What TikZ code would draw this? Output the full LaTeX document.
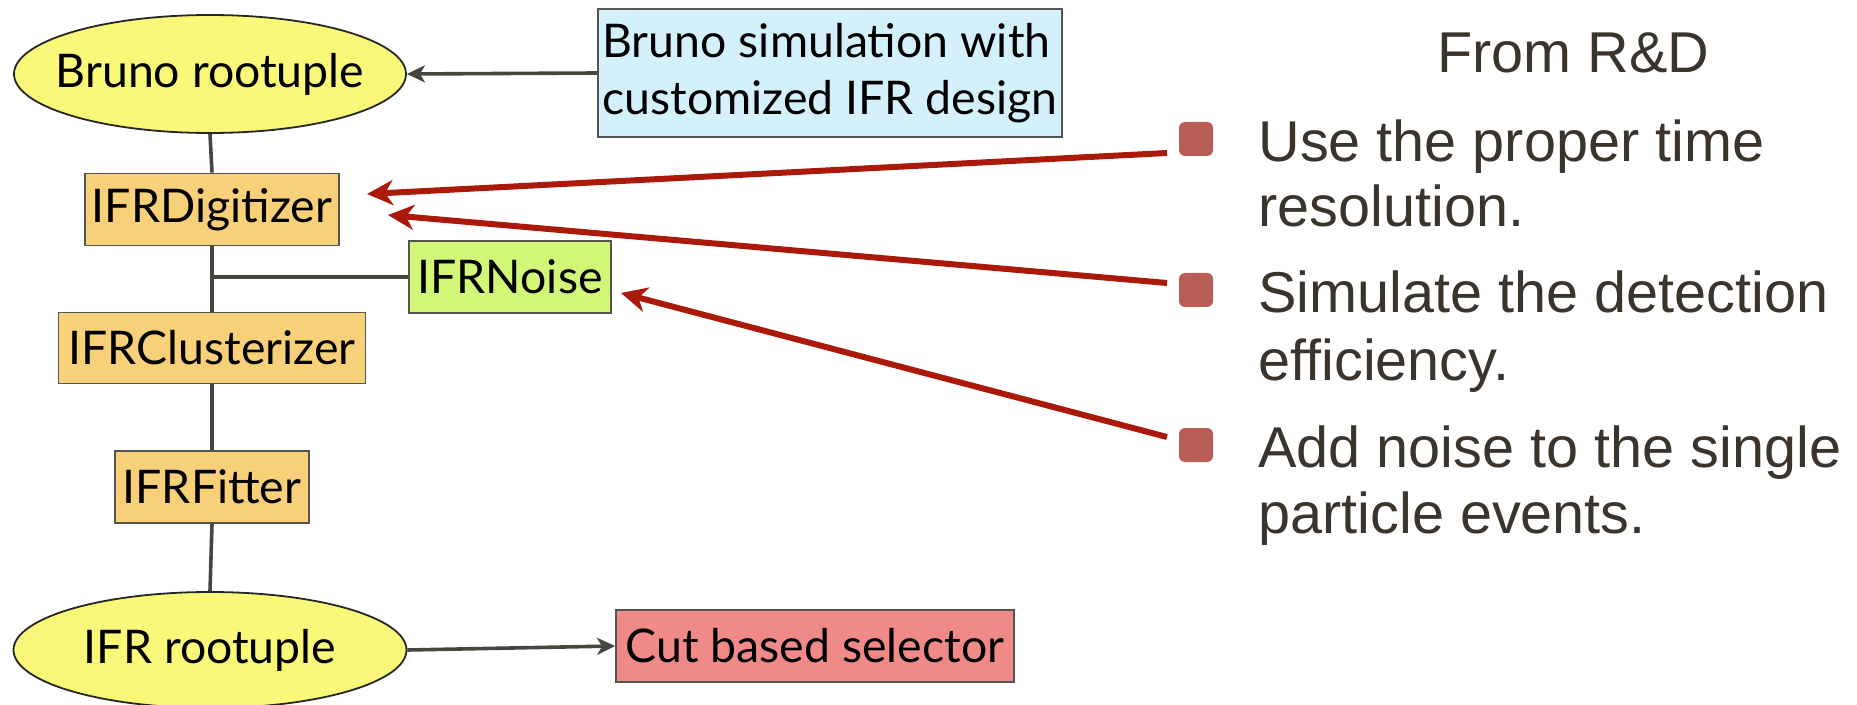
\documentclass[tikz,border=0pt]{standalone}
\usepackage{fontspec}
\setmainfont{Lato}
\newfontfamily\rfont{Liberation Sans}
\usetikzlibrary{shapes.geometric,arrows.meta}
\definecolor{elyellow}{RGB}{250,248,120}
\definecolor{simblue}{RGB}{212,240,251}
\definecolor{modorange}{RGB}{248,208,122}
\definecolor{noisegreen}{RGB}{210,246,120}
\definecolor{cutred}{RGB}{240,138,136}
\definecolor{bordergray}{RGB}{85,85,80}
\definecolor{linegray}{RGB}{70,70,62}
\definecolor{arrowred}{RGB}{170,25,10}
\definecolor{bulletred}{RGB}{184,92,86}
\definecolor{textdark}{RGB}{58,52,45}
\begin{document}
\begin{tikzpicture}[x=0.5pt,y=-0.5pt,
  lfont/.style={font=\fontsize{23.2pt}{28.5pt}\selectfont},
  box/.style={draw=bordergray, line width=0.9pt, inner sep=0pt, lfont},
  ell/.style={ellipse, draw=black!85, line width=0.9pt, fill=elyellow, inner sep=0pt, lfont},
  conn/.style={draw=linegray, line width=1.8pt},
  grayarrow/.style={conn, -{Stealth[length=9pt,width=8.5pt,inset=2.5pt]}},
  redarrow/.style={draw=arrowred, line width=3pt, -{Stealth[length=13pt,width=12.5pt,inset=4pt]}},
  bulletbox/.style={rectangle, rounded corners=3pt, fill=bulletred, minimum size=17pt, inner sep=0pt},
  rtext/.style={text=textdark, font=\rfont\fontsize{28.8pt}{32.5pt}\selectfont, inner sep=0pt, anchor=base west}
]
\useasboundingbox (0,0) rectangle (1857,705);

% left diagram
\node[ell, minimum width=196pt, minimum height=59pt] (bruno) at (210,74) {\makebox[0pt]{Bruno rootuple}};
\node[box, fill=simblue, minimum width=232pt, minimum height=64pt, align=left] (sim) at (830,73) {Bruno simulation with\\customized IFR design};
\node[box, fill=modorange, minimum width=127pt, minimum height=36pt] (digit) at (212,209.5) {IFRDigitizer};
\node[box, fill=noisegreen, minimum width=101pt, minimum height=36pt] (noise) at (510,277) {IFRNoise};
\node[box, fill=modorange, minimum width=153.5pt, minimum height=35.5pt] (clust) at (212,348) {IFRClusterizer};
\node[box, fill=modorange, minimum width=97pt, minimum height=36pt] (fitter) at (212,487) {IFRFitter};
\node[ell, minimum width=196.5pt, minimum height=58pt] (ifrroot) at (210,650) {\makebox[0pt]{IFR rootuple}};
\node[box, fill=cutred, minimum width=199pt, minimum height=36pt] (cut) at (815,646) {Cut based selector};
\coordinate (j) at (212,277);

\draw[conn] (bruno.south) -- (digit.north);
\draw[conn] (digit.south) -- (clust.north);
\draw[conn] (clust.south) -- (fitter.north);
\draw[conn] (fitter.south) -- (ifrroot.north);
\draw[conn] (j) -- (noise.west);
\draw[grayarrow] (sim.west) -- (bruno.east);
\draw[grayarrow] (ifrroot.east) -- (cut.west);

% right text
\node[rtext] (from) at (1437,73) {From R\&D};
\node[bulletbox] (bul1) at (1196,139) {};
\node[bulletbox] (bul2) at (1196,290) {};
\node[bulletbox] (bul3) at (1196,445) {};
\node[rtext] (t1a) at (1258,162) {Use the proper time};
\node[rtext] (t1b) at (1258,227) {resolution.};
\node[rtext] (t2a) at (1258,313) {Simulate the detection};
\node[rtext] (t2b) at (1258,380) {efficiency.};
\node[rtext] (t3a) at (1258,467) {Add noise to the single};
\node[rtext] (t3b) at (1258,533) {particle events.};

% red arrows
\coordinate (r1s) at (1167,153);
\coordinate (r1e) at (367,194);
\coordinate (r2s) at (1167,283);
\coordinate (r2e) at (388,215);
\coordinate (r3s) at (1167,437);
\coordinate (r3e) at (621,293);
\draw[redarrow] (r1s) -- (r1e);
\draw[redarrow] (r2s) -- (r2e);
\draw[redarrow] (r3s) -- (r3e);
\end{tikzpicture}
\end{document}
